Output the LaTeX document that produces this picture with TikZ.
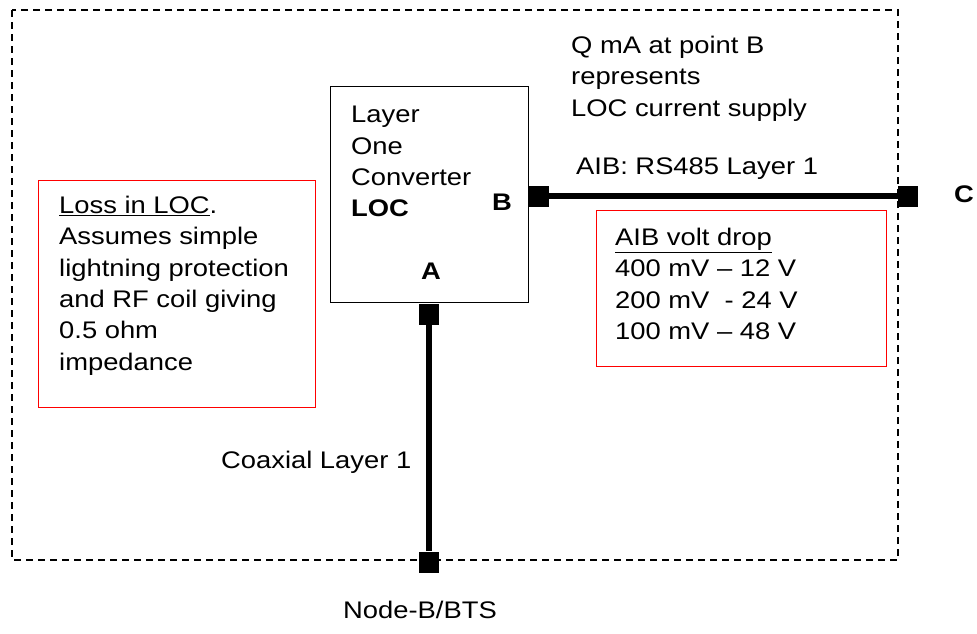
\documentclass[tikz,border=0pt]{standalone}
\usepackage{fontspec}
\setmainfont{Liberation Sans}[FakeStretch=1.14]
\usetikzlibrary{shapes,positioning}

\begin{document}
\begin{tikzpicture}[x=1pt,y=-1pt,% one unit per pixel of the drawing
			every node/.style={
				align=left,		% use this so that the "\\" for line break works
				inner sep=0pt,
				font=\fontsize{24}{31.3}\selectfont
			},
			every edge/.style={draw,line width=6pt},
			pad/.style={rectangle,fill=black,minimum width=20pt,minimum height=21pt},
			note/.style={rectangle,draw=red,line width=1.3pt,anchor=north west}
		]
		\useasboundingbox (0,0) rectangle (977,633);
		\draw[dash pattern=on 7pt off 5pt,line width=1.3pt] (12,10) rectangle (898,560);
		% converter box and its points
		\node[rectangle,draw,line width=1.3pt,minimum width=198pt,minimum height=216pt,anchor=north west](LOC) at (330,86){};
		\node[anchor=north west](T1) at (351,106){Layer \\ One \\ Converter \\ \textbf{LOC}};
		\node[font=\fontsize{24}{31.3}\selectfont\bfseries](LB) at (502,202){B};
		\node[font=\fontsize{24}{31.3}\selectfont\bfseries](LA) at (431,271){A};
		\node[font=\fontsize{24}{31.3}\selectfont\bfseries](LC) at (964,194){C};
		\node[pad](PB) at (539,196){};
		\node[pad](PC) at (908,196){};
		\node[pad](PA) at (429,314){};
		\node[pad](PN) at (429,562){};
		% notes
		\node[anchor=north west](T2) at (571,36){Q mA at point B \\ represents \\ LOC current supply};
		\node[anchor=north west](T3) at (576,158){AIB: RS485 Layer 1};
		\node[anchor=north west](T4) at (221,451){Coaxial Layer 1};
		\node[anchor=north west](T5) at (343,601){Node-B/BTS};
		\node[note,minimum width=277pt,minimum height=227pt](R1) at (38,180){};
		\node[anchor=north west](T6) at (59,196){\underline{Loss in LOC}. \\ Assumes simple \\ lightning protection \\ and RF coil giving \\ 0.5 ohm \\ impedance};
		\node[note,minimum width=290pt,minimum height=156pt](R2) at (596,210){};
		\node[anchor=north west](T7) at (615,228){\underline{AIB volt drop} \\ 400 mV – 12 V \\ 200 mV\ \ - 24 V \\ 100 mV – 48 V};
		\path
		(PB)edge [] (PC)
		(PA)edge [] (PN)
		;
	\end{tikzpicture}
\end{document}
